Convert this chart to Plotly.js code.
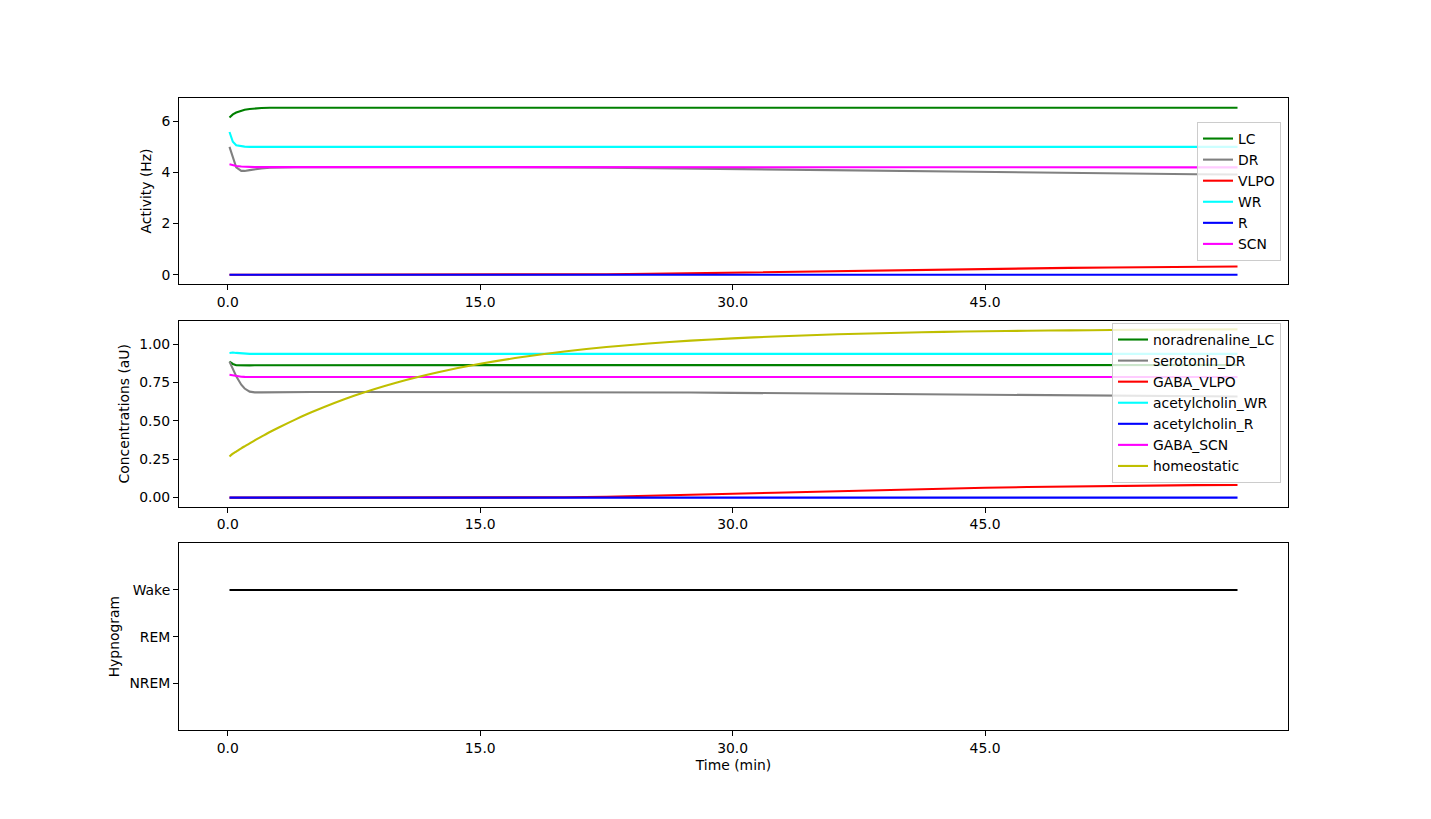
<!DOCTYPE html>
<html>
<head>
<meta charset="utf-8">
<script src="https://cdn.plot.ly/plotly-3.0.1.min.js"></script>
<style>
  html, body { margin: 0; padding: 0; background: #ffffff; }
  #chart { width: 1431px; height: 819px; }
</style>
</head>
<body>
<div id="chart"></div>
<script>
// ---- time grid (minutes) ----
const timeMin = [0.1, 0.3, 0.5, 0.8, 1.0, 1.3, 1.6, 2.0, 2.5, 3.0, 4.0, 5.0, 7.5, 10, 12.5, 15, 17.5, 20, 22.5, 25, 27.5, 30, 32.5, 35, 37.5, 40, 42.5, 45, 47.5, 50, 52.5, 55, 57.5, 60];

// ---- Activity (Hz) ----
const actLC   = [6.15, 6.27, 6.34, 6.41, 6.45, 6.48, 6.50, 6.52, 6.53, 6.53, 6.54, 6.53, 6.52, 6.53, 6.54, 6.52, 6.53, 6.53, 6.52, 6.53, 6.54, 6.53, 6.52, 6.53, 6.53, 6.54, 6.52, 6.53, 6.54, 6.53, 6.52, 6.53, 6.53, 6.53];
const actDR   = [5.00, 4.55, 4.20, 4.06, 4.06, 4.09, 4.13, 4.16, 4.19, 4.20, 4.21, 4.21, 4.21, 4.22, 4.22, 4.21, 4.21, 4.20, 4.19, 4.17, 4.15, 4.13, 4.11, 4.09, 4.07, 4.05, 4.03, 4.01, 3.99, 3.97, 3.96, 3.94, 3.93, 3.92];
const actVLPO = [0.00, 0.00, 0.00, 0.00, 0.00, 0.00, 0.00, 0.00, 0.00, 0.00, 0.00, 0.00, 0.00, 0.00, 0.00, 0.005, 0.008, 0.012, 0.02, 0.035, 0.06, 0.085, 0.11, 0.14, 0.165, 0.19, 0.21, 0.235, 0.255, 0.27, 0.285, 0.30, 0.315, 0.325];
const actWR   = [5.58, 5.20, 5.06, 5.02, 5.01, 5.00, 5.00, 5.00, 5.00, 5.00, 5.00, 5.00, 5.00, 5.00, 5.00, 5.00, 5.00, 5.00, 5.00, 5.00, 5.00, 5.00, 5.00, 5.00, 5.00, 5.00, 5.00, 5.00, 5.00, 5.00, 5.00, 5.00, 5.00, 5.00];
const actR    = [0, 0, 0, 0, 0, 0, 0, 0, 0, 0, 0, 0, 0, 0, 0, 0, 0, 0, 0, 0, 0, 0, 0, 0, 0, 0, 0, 0, 0, 0, 0, 0, 0, 0];
const actSCN  = [4.32, 4.28, 4.25, 4.23, 4.22, 4.21, 4.21, 4.21, 4.21, 4.21, 4.21, 4.21, 4.21, 4.21, 4.21, 4.21, 4.21, 4.21, 4.21, 4.20, 4.20, 4.20, 4.20, 4.20, 4.20, 4.20, 4.20, 4.20, 4.20, 4.20, 4.20, 4.20, 4.20, 4.20];

// ---- Concentrations (aU) ----
const concNA    = [0.885, 0.870, 0.862, 0.860, 0.860, 0.861, 0.862, 0.862, 0.863, 0.863, 0.863, 0.863, 0.863, 0.863, 0.863, 0.863, 0.863, 0.863, 0.863, 0.863, 0.863, 0.863, 0.863, 0.863, 0.863, 0.863, 0.863, 0.863, 0.863, 0.863, 0.863, 0.863, 0.863, 0.863];
const conc5HT   = [0.885, 0.840, 0.790, 0.735, 0.710, 0.690, 0.685, 0.685, 0.686, 0.687, 0.688, 0.688, 0.688, 0.688, 0.688, 0.688, 0.688, 0.688, 0.687, 0.686, 0.684, 0.682, 0.680, 0.678, 0.676, 0.673, 0.671, 0.668, 0.666, 0.664, 0.662, 0.660, 0.659, 0.658];
const concGABAV = [0, 0, 0, 0, 0, 0, 0, 0, 0, 0, 0, 0, 0, 0, 0, 0.001, 0.001, 0.002, 0.006, 0.011, 0.018, 0.025, 0.032, 0.039, 0.046, 0.053, 0.059, 0.064, 0.069, 0.073, 0.076, 0.079, 0.081, 0.082];
const concAchWR = [0.942, 0.945, 0.942, 0.938, 0.936, 0.936, 0.936, 0.936, 0.936, 0.936, 0.936, 0.936, 0.936, 0.936, 0.936, 0.936, 0.936, 0.936, 0.936, 0.936, 0.936, 0.936, 0.936, 0.936, 0.936, 0.936, 0.936, 0.936, 0.936, 0.936, 0.936, 0.936, 0.936, 0.936];
const concAchR  = [0, 0, 0, 0, 0, 0, 0, 0, 0, 0, 0, 0, 0, 0, 0, 0, 0, 0, 0, 0, 0, 0, 0, 0, 0, 0, 0, 0, 0, 0, 0, 0, 0, 0];
const concGABAS = [0.800, 0.795, 0.790, 0.787, 0.786, 0.785, 0.785, 0.785, 0.785, 0.785, 0.785, 0.785, 0.785, 0.785, 0.785, 0.785, 0.785, 0.785, 0.785, 0.785, 0.785, 0.785, 0.785, 0.785, 0.785, 0.785, 0.785, 0.785, 0.785, 0.785, 0.785, 0.785, 0.785, 0.785];
const concHomeo = [0.267, 0.286, 0.300, 0.321, 0.334, 0.353, 0.373, 0.397, 0.427, 0.455, 0.508, 0.557, 0.663, 0.748, 0.816, 0.871, 0.915, 0.951, 0.980, 1.003, 1.022, 1.037, 1.049, 1.059, 1.067, 1.073, 1.079, 1.083, 1.086, 1.089, 1.091, 1.093, 1.094, 1.095];

// ---- Hypnogram ----
const hypnoTime   = [0.1, 60];
const hypnoStage  = ['Wake', 'Wake'];
const stageLabels = ['NREM', 'REM', 'Wake'];

// ---- Axis ticks ----
const xTickVals  = [0, 15, 30, 45];
const xTickText  = ['0.0', '15.0', '30.0', '45.0'];
const actTicks   = [0, 2, 4, 6];
const concTicks  = [0, 0.25, 0.5, 0.75, 1.0];
const concTickTx = ['0.00', '0.25', '0.50', '0.75', '1.00'];

const FONT = 'DejaVu Sans, sans-serif';
const FS = 13.9;
const LW = 2.1;

function line(x, y, name, color, xa, ya, legend, show, smooth) {
  const ln = { color: color, width: LW };
  if (smooth) { ln.shape = 'spline'; ln.smoothing = 0.8; }
  return {
    type: 'scatter', mode: 'lines', x: x, y: y, name: name,
    line: ln,
    xaxis: xa, yaxis: ya, legend: legend, showlegend: show !== false,
    hoverinfo: 'skip'
  };
}

const traces = [
  line(timeMin, actLC,   'LC',   '#008000', 'x', 'y', 'legend'),
  line(timeMin, actDR,   'DR',   '#808080', 'x', 'y', 'legend'),
  line(timeMin, actVLPO, 'VLPO', '#ff0000', 'x', 'y', 'legend'),
  line(timeMin, actWR,   'WR',   '#00ffff', 'x', 'y', 'legend'),
  line(timeMin, actR,    'R',    '#0000ff', 'x', 'y', 'legend'),
  line(timeMin, actSCN,  'SCN',  '#ff00ff', 'x', 'y', 'legend'),

  line(timeMin, concNA,    'noradrenaline_LC', '#008000', 'x2', 'y2', 'legend2'),
  line(timeMin, conc5HT,   'serotonin_DR',     '#808080', 'x2', 'y2', 'legend2'),
  line(timeMin, concGABAV, 'GABA_VLPO',        '#ff0000', 'x2', 'y2', 'legend2'),
  line(timeMin, concAchWR, 'acetylcholin_WR',  '#00ffff', 'x2', 'y2', 'legend2'),
  line(timeMin, concAchR,  'acetylcholin_R',   '#0000ff', 'x2', 'y2', 'legend2'),
  line(timeMin, concGABAS, 'GABA_SCN',         '#ff00ff', 'x2', 'y2', 'legend2'),
  line(timeMin, concHomeo, 'homeostatic',      '#bfbf00', 'x2', 'y2', 'legend2', true, true),

  line(hypnoTime, hypnoStage.map(s => stageLabels.indexOf(s)), 'hypnogram', '#000000', 'x3', 'y3', 'legend', false)
];

function xAxis(anchor, showTitle) {
  const ax = {
    domain: [0, 1], anchor: anchor, range: [-2.9, 63.0],
    tickmode: 'array', tickvals: xTickVals, ticktext: xTickText,
    ticks: 'outside', ticklen: 5, tickwidth: 1, tickcolor: '#000',
    showline: true, mirror: true, linecolor: '#000', linewidth: 1,
    showgrid: false, zeroline: false,
    tickfont: { family: FONT, size: FS, color: '#000' }
  };
  if (showTitle) {
    ax.title = { text: 'Time (min)', font: { family: FONT, size: FS, color: '#000' }, standoff: 5 };
  }
  return ax;
}
function yAxis(anchor, domain, range, tickvals, ticktext, title) {
  return {
    domain: domain, anchor: anchor, range: range,
    tickmode: 'array', tickvals: tickvals, ticktext: ticktext,
    ticks: 'outside', ticklen: 5, tickwidth: 1, tickcolor: '#000',
    showline: true, mirror: true, linecolor: '#000', linewidth: 1,
    showgrid: false, zeroline: false,
    tickfont: { family: FONT, size: FS, color: '#000' },
    title: { text: title, font: { family: FONT, size: FS, color: '#000' }, standoff: 6 }
  };
}

const legendStyle = (y) => ({
  x: 0.9937, xanchor: 'right', y: y, yanchor: 'top',
  bgcolor: 'rgba(255,255,255,0.8)', bordercolor: '#cccccc', borderwidth: 1,
  font: { family: FONT, size: FS, color: '#000' },
  itemwidth: 30
});

const layout = {
  width: 1431, height: 819,
  margin: { l: 179, r: 143, t: 98, b: 89, pad: 0 },
  paper_bgcolor: '#ffffff', plot_bgcolor: '#ffffff',
  font: { family: FONT, size: FS, color: '#000' },
  xaxis: xAxis('y', false),
  xaxis2: xAxis('y2', false),
  xaxis3: xAxis('y3', true),
  yaxis: yAxis('x', [0.7057, 1], [-0.36, 6.91], actTicks, actTicks.map(String), 'Activity (Hz)'),
  yaxis2: yAxis('x2', [0.3536, 0.6472], [-0.058, 1.15], concTicks, concTickTx, 'Concentrations (aU)'),
  yaxis3: yAxis('x3', [0, 0.2954], [-1, 3], [0, 1, 2], stageLabels, 'Hypnogram'),
  legend: legendStyle(0.962),
  legend2: legendStyle(0.644),
  showlegend: true
};

Plotly.newPlot('chart', traces, layout, { displayModeBar: false, staticPlot: true });
</script>
</body>
</html>
